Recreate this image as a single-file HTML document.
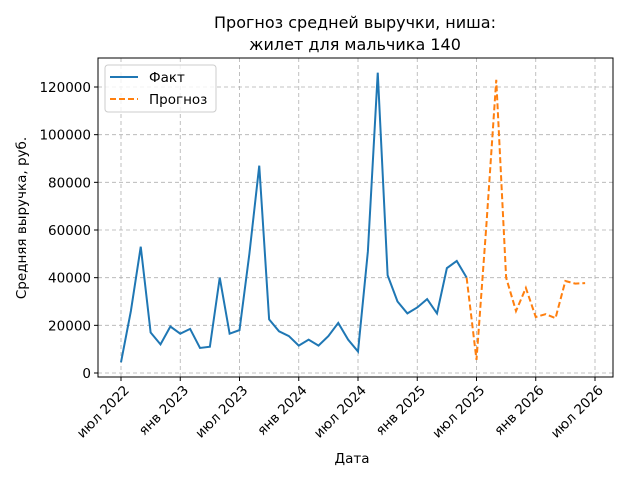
<!DOCTYPE html>
<html><head><meta charset="utf-8"><style>
body{margin:0;background:#fff;}
svg{font-family:"DejaVu Sans","Liberation Sans",sans-serif;}
</style></head><body>
<svg id="chart" width="640" height="480" viewBox="0 0 640 480">
<rect width="640" height="480" fill="#fff"/>
<text x="355" y="28" font-size="16" text-anchor="middle">Прогноз средней выручки, ниша:</text>
<text x="355" y="50" font-size="16" text-anchor="middle">жилет для мальчика 140</text>
<g id="grid"></g>
<g id="yaxis"></g>
<g id="xaxis"></g>
<g id="series"></g>
<rect x="98" y="58" width="515" height="319" fill="none" stroke="#000" stroke-width="1"/>
<text transform="translate(26,218) rotate(-90)" font-size="13.5" text-anchor="middle">Средняя выручка, руб.</text>
<text x="352" y="463" font-size="13.5" text-anchor="middle">Дата</text>
<g>
<rect x="105" y="65" width="111" height="47" rx="3" fill="#fff" fill-opacity="0.8" stroke="#ccc"/>
<line x1="110" y1="77" x2="138" y2="77" stroke="#1f77b4" stroke-width="2"/>
<text x="149" y="82" font-size="13.5">Факт</text>
<line x1="110" y1="99" x2="138" y2="99" stroke="#ff7f0e" stroke-width="2" stroke-dasharray="6,3"/>
<text x="149" y="104" font-size="13.5">Прогноз</text>
</g>
</svg>
<script>
const factValues=[4500,26000,53000,17000,12000,19500,16500,18500,10500,11000,40000,16500,18000,50000,87000,22500,17500,15500,11500,14000,11500,15500,21000,14000,9000,51000,126000,41000,30000,25000,27500,31000,25000,44000,47000,40000];
const forecastValues=[40000,5500,62000,123000,40000,26000,35700,23500,24700,23000,38600,37500,37700];
const forecastStart=35;
const yTicks=[0,20000,40000,60000,80000,100000,120000];
const xTickMonths=[0,6,12,18,24,30,36,42,48];
const xTickLabels=["июл 2022","янв 2023","июл 2023","янв 2024","июл 2024","янв 2025","июл 2025","янв 2026","июл 2026"];
const NS="http://www.w3.org/2000/svg";
function x(m){return 121+m*(595-121)/48;}
function y(v){return 373-v*(373-87)/120000;}
const grid=document.getElementById('grid'),ya=document.getElementById('yaxis'),xa=document.getElementById('xaxis'),se=document.getElementById('series');
function mk(tag,attrs,parent){const e=document.createElementNS(NS,tag);for(const k in attrs)e.setAttribute(k,attrs[k]);parent.appendChild(e);return e;}
yTicks.forEach(v=>{
  const g=mk('line',{x1:98,x2:613,y1:y(v),y2:y(v),stroke:'#b0b0b0','stroke-dasharray':'4,3','stroke-width':0.8},grid);
  
  
  mk('line',{x1:94,x2:98,y1:y(v),y2:y(v),stroke:'#000'},ya);
  const t=mk('text',{x:91,y:y(v)+5,'font-size':13.5,'text-anchor':'end'},ya);
  t.textContent=v;
  
  
});
xTickMonths.forEach((m,i)=>{
  const g=mk('line',{x1:x(m),x2:x(m),y1:58,y2:377,stroke:'#b0b0b0','stroke-dasharray':'4,3','stroke-width':0.8},grid);
  
  
  mk('line',{x1:x(m),x2:x(m),y1:377,y2:381,stroke:'#000'},xa);
  const t=mk('text',{transform:`translate(${x(m)+9},${391}) rotate(-45)`,'font-size':13.5,'text-anchor':'end'},xa);
  t.textContent=xTickLabels[i];
  
  
});
const fp=mk('polyline',{points:factValues.map((v,i)=>x(i)+','+y(v)).join(' '),fill:'none',stroke:'#1f77b4','stroke-width':2},se);


const pp=mk('polyline',{points:forecastValues.map((v,i)=>x(forecastStart+i)+','+y(v)).join(' '),fill:'none',stroke:'#ff7f0e','stroke-width':2,'stroke-dasharray':'6,3'},se);


</script>
</body></html>
